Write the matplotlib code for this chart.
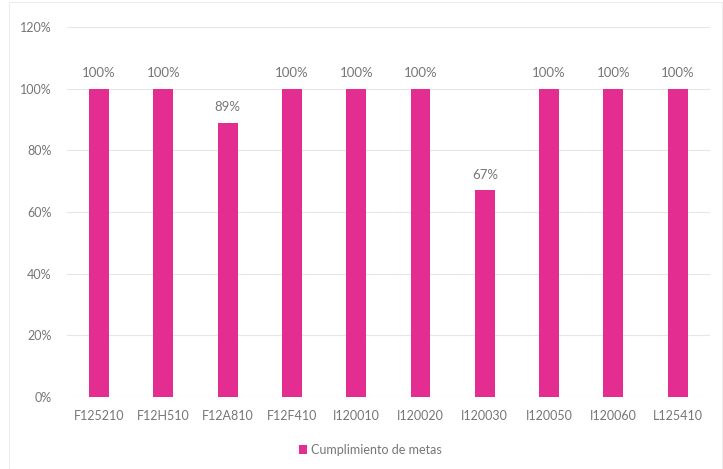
import matplotlib
matplotlib.use("Agg")
import matplotlib.pyplot as plt
from matplotlib.ticker import FuncFormatter, MultipleLocator
from matplotlib.patches import Rectangle

categories = ["F125210", "F12H510", "F12A810", "F12F410", "I120010",
              "I120020", "I120030", "I120050", "I120060", "L125410"]
values = [100, 100, 89, 100, 100, 100, 67, 100, 100, 100]
series_name = "Cumplimiento de metas"

plt.rcParams['font.family'] = ['Lato', 'DejaVu Sans']
bar_color = "#E32D91"
text_color = "#767676"

fig = plt.figure(figsize=(7.23, 4.69), dpi=100)
fig.patches.append(Rectangle((0.013, 0.0), 0.985, 0.995, transform=fig.transFigure,
                             fill=False, edgecolor="#EDEDED", linewidth=0.8))
ax = fig.add_axes([0.0927, 0.1535, 0.889, 0.789])

x = range(len(categories))
bars = ax.bar(x, values, width=0.31, color=bar_color, label=series_name, zorder=3)
for xi, v in zip(x, values):
    ax.text(xi, v + 3, f"{v}%", ha="center", va="bottom", fontsize=9.5, color=text_color)

ax.set_xlim(-0.5, len(categories) - 0.5)
ax.set_ylim(0, 120)
ax.yaxis.set_major_locator(MultipleLocator(20))
ax.yaxis.set_major_formatter(FuncFormatter(lambda v, p: f"{int(v)}%"))
ax.set_xticks(list(x))
ax.set_xticklabels(categories)
ax.tick_params(axis="both", length=0, labelsize=9, labelcolor=text_color)
ax.tick_params(axis="x", pad=9)
ax.tick_params(axis="y", pad=11)
ax.grid(axis="y", color="#E6E6E6", linewidth=0.8, zorder=0)
for s in ax.spines.values():
    s.set_visible(False)

leg = fig.legend(loc="center", bbox_to_anchor=(0.512, 0.04), frameon=False,
                 fontsize=9, handlelength=0.7, handleheight=0.7, handletextpad=0.3)
for t in leg.get_texts():
    t.set_color(text_color)

fig.savefig("out.png", dpi=100)
